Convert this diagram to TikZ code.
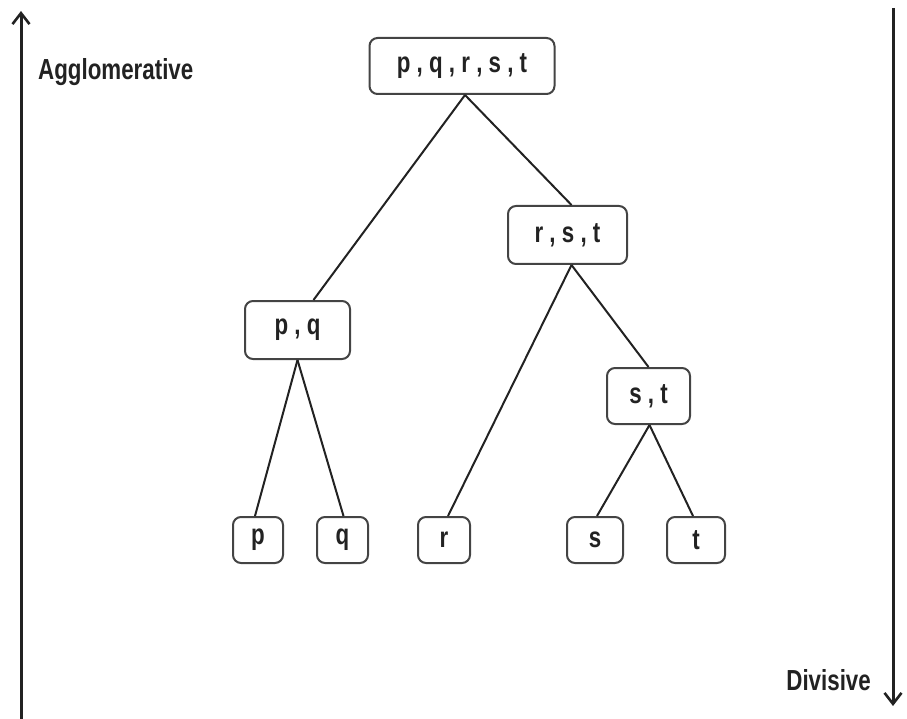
\documentclass[tikz,border=0pt]{standalone}
\usepackage{fontspec}
\newfontfamily\lbl[FakeStretch=0.77]{Liberation Sans Bold}
\usetikzlibrary{arrows.meta,calc}
\definecolor{ink}{HTML}{222222}
\definecolor{edge}{HTML}{444444}
\tikzset{
  clbox/.style={draw=edge, line width=2pt, rounded corners=8pt, inner sep=0pt,
    font=\lbl\fontsize{29}{32}\selectfont, text=ink},
  link/.style={draw=ink, line width=2pt},
  axis/.style={draw=ink, line width=3pt, -{Straight Barb[length=11pt,width=17pt,line width=2.6pt]}},
  lab/.style={font=\lbl\fontsize{29}{32}\selectfont, text=ink, inner sep=0pt}
}
\begin{document}
\begin{tikzpicture}[x=1pt,y=-1pt]
\useasboundingbox (0,0) rectangle (907,719);
% axes
\coordinate (la) at (21,719);
\coordinate (lb) at (21,11);
\coordinate (ra) at (893,8);
\coordinate (rb) at (893,706);
\draw[axis] (la) -- (lb);
\draw[axis] (ra) -- (rb);
\node[lab, anchor=west] (agg) at (38,72) {Agglomerative};
\node[lab, anchor=east] (div) at (871,680) {Divisive};
% nodes
\node[clbox, minimum width=185pt, minimum height=56pt] (top) at (462,66) {p , q , r , s , t};
\node[clbox, minimum width=119pt, minimum height=58pt] (rst) at (567.5,235) {r , s , t};
\node[clbox, minimum width=105pt, minimum height=58pt] (pq) at (297.5,330) {p , q};
\node[clbox, minimum width=83pt, minimum height=56pt] (st) at (648.5,396) {s , t};
\node[clbox, minimum width=50pt, minimum height=46pt] (p) at (258,540) {p};
\node[clbox, minimum width=51pt, minimum height=46pt] (q) at (342.5,540) {q};
\node[clbox, minimum width=52pt, minimum height=46pt] (r) at (444,540) {r};
\node[clbox, minimum width=56pt, minimum height=46pt] (s) at (595,540) {s};
\node[clbox, minimum width=58pt, minimum height=46pt] (t) at (696,540) {t};
% links
\draw[link] ($(top.south)+(3,0)$) -- ($(pq.north)+(16,0)$);
\draw[link] ($(top.south)+(3,0)$) -- ($(rst.north)+(4,0)$);
\draw[link] ($(rst.south)+(4,0)$) -- ($(r.north)+(4,0)$);
\draw[link] ($(rst.south)+(4,0)$) -- ($(st.north)+(0,0)$);
\draw[link] (pq.south) -- ($(p.north)+(-3,0)$);
\draw[link] (pq.south) -- ($(q.north)+(1,0)$);
\draw[link] ($(st.south)+(1,0)$) -- ($(s.north)+(2,0)$);
\draw[link] ($(st.south)+(1,0)$) -- ($(t.north)+(-3,0)$);
\end{tikzpicture}
\end{document}
